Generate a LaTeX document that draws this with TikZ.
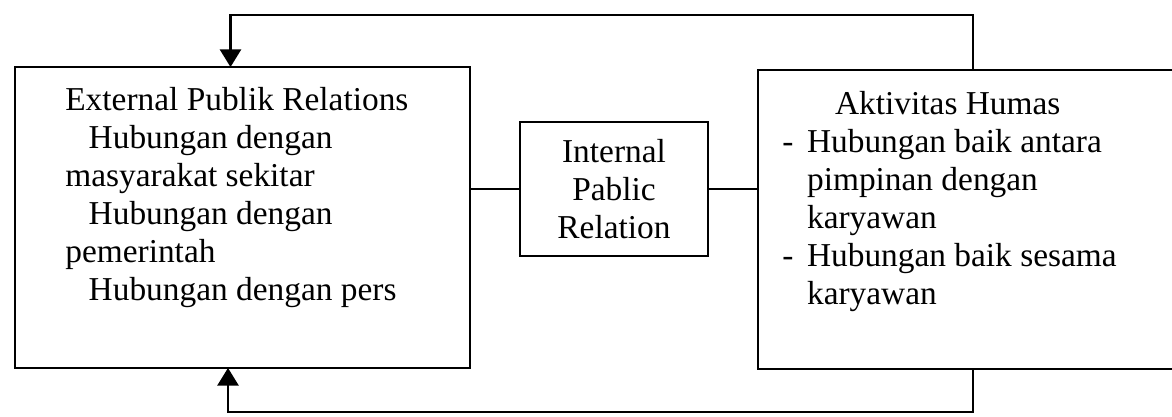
\documentclass[tikz,border=0pt]{standalone}
\usepackage{fontspec}
\setmainfont{Liberation Serif}
\usetikzlibrary{arrows.meta,positioning,calc}
\tikzset{
    framebox/.style={
        draw,
        line width=1.4pt,
        inner sep=0pt,
        outer sep=0pt
    },
    boxtext/.style={
        align=left,
        inner sep=0pt,
        font=\fontsize{19}{21.6}\selectfont
    },
    feedback/.style={
        -{Triangle[length=10pt,width=12pt]},
        line width=1.2pt
    },
    link/.style={
        line width=1.2pt
    }
}
\newcommand{\dashitem}{\makebox[0.74em][l]{-}}

\begin{document}
\begin{tikzpicture}[x=0.02cm,y=0.02cm]
        \useasboundingbox (0,0) rectangle (1172,416);
        \clip (0,0) rectangle (1172,416);

        \node[framebox, minimum width=9.1cm, minimum height=6.02cm] (ext) at (242.5,198.5) {};

        \node[framebox, boxtext, align=center, minimum width=3.76cm, minimum height=2.68cm] (int) at (614,227) {
            Internal\\
            Pablic\\
            Relation
        };

        \node[framebox, minimum width=8.6cm, minimum height=5.98cm] (akt) at (973,196.5) {};

        \node[boxtext, anchor=north west] (exttext) at (65,329) {
            External Publik Relations\\
            \hspace*{0.7em}Hubungan dengan\\
            masyarakat sekitar\\
            \hspace*{0.7em}Hubungan dengan\\
            pemerintah\\
            \hspace*{0.7em}Hubungan dengan pers
        };

        \node[boxtext, anchor=north west] (akttext) at (782,325) {
            \hspace*{1.58em}Aktivitas Humas\\
            \dashitem Hubungan baik antara\\
            \hspace*{0.74em}pimpinan dengan\\
            \hspace*{0.74em}karyawan\\
            \dashitem Hubungan baik sesama\\
            \hspace*{0.74em}karyawan
        };

        \draw[link] (int.west -| ext.east) -- (int.west);
        \draw[link] (int.east) -- (int.east -| akt.west);

        \draw[feedback] (akt.north) -- ++(0,55) -| ([xshift=-0.24cm]ext.north);
        \draw[feedback] (akt.south) -- ++(0,-43) -| ([xshift=-0.29cm]ext.south);
    \end{tikzpicture}
\end{document}
